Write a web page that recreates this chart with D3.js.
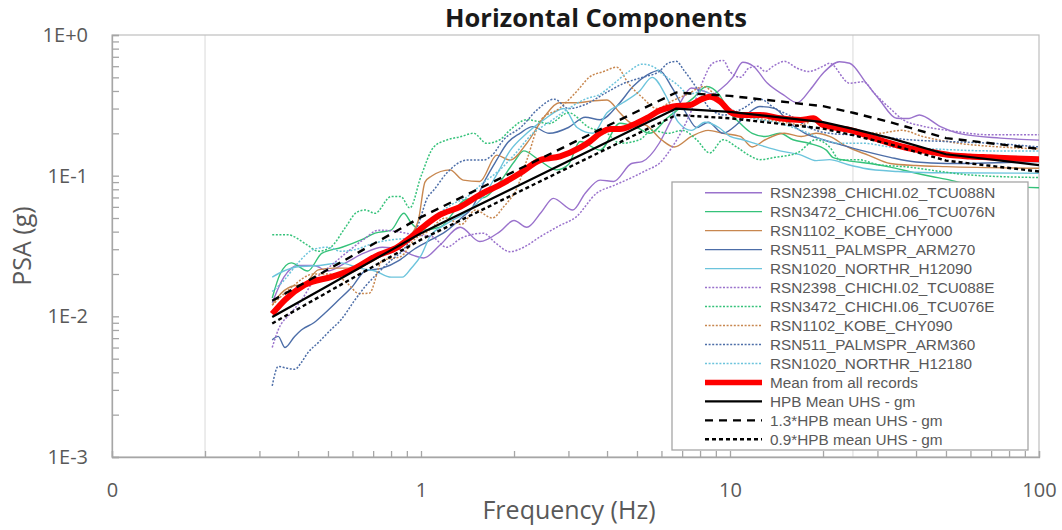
<!DOCTYPE html>
<html>
<head>
<meta charset="utf-8">
<script src="https://cdn.jsdelivr.net/npm/d3@7"></script>
<style>
  body { margin: 0; background: #fff; }
  text { font-family: "Open Sans", "Liberation Sans", sans-serif; }
</style>
</head>
<body>
<div id="chart"></div>
<script>
// ---- data ----
var xMajor = [0.1, 1, 10, 100];
var xTickLabels = ["0", "1", "10", "100"];
var yMajor = [0.001, 0.01, 0.1, 1];
var yTickLabels = ["1E-3", "1E-2", "1E-1", "1E+0"];
var gridFreqs = [0.2, 25];

// records [frequency Hz, PSA g]
var rsn2398N = [[0.33,0.0125],[0.36,0.019],[0.4,0.023],[0.45,0.023],[0.5,0.021],[0.57,0.024],[0.65,0.028],[0.75,0.031],[0.85,0.03],[0.95,0.027],[1.02,0.026],[1.15,0.032],[1.34,0.043],[1.55,0.034],[1.8,0.04],[2.0,0.048],[2.2,0.043],[2.45,0.055],[2.68,0.069],[3.1,0.057],[3.4,0.075],[3.8,0.093],[4.2,0.091],[4.8,0.122],[5.2,0.126],[5.9,0.17],[6.4,0.24],[6.9,0.33],[7.5,0.42],[8.2,0.4],[8.8,0.38],[9.3,0.41],[10.2,0.5],[11,0.64],[11.9,0.6],[13.2,0.455],[14.9,0.375],[16.5,0.33],[18.2,0.41],[20,0.535],[22.6,0.646],[24.4,0.63],[27.6,0.455],[30.5,0.345],[34.6,0.256],[38,0.255],[41,0.27],[48,0.223],[55,0.2],[75,0.185],[100,0.179]];
var rsn3472N = [[0.33,0.0135],[0.35,0.02],[0.38,0.024],[0.43,0.021],[0.477,0.028],[0.555,0.031],[0.64,0.035],[0.71,0.039],[0.8,0.041],[0.88,0.054],[0.93,0.046],[1.0,0.041],[1.15,0.043],[1.4,0.068],[1.6,0.07],[1.8,0.09],[2.0,0.125],[2.15,0.15],[2.4,0.13],[2.75,0.11],[3.0,0.12],[3.27,0.175],[3.8,0.152],[4.4,0.236],[5.0,0.22],[5.5,0.2],[6.3,0.26],[7.6,0.356],[8.4,0.43],[9.2,0.38],[10.0,0.28],[10.8,0.235],[11.8,0.2],[13,0.19],[14.5,0.2],[16,0.18],[18,0.17],[20.5,0.152],[21.5,0.135],[24,0.128],[28.4,0.122],[33,0.115],[38,0.107],[44.6,0.099],[51.6,0.093],[56,0.089],[100,0.082]];
var rsn1102_000 = [[0.33,0.012],[0.345,0.0138],[0.38,0.0163],[0.42,0.017],[0.465,0.0214],[0.52,0.022],[0.6,0.022],[0.68,0.024],[0.8,0.03],[0.9,0.035],[0.98,0.048],[1.03,0.09],[1.08,0.099],[1.24,0.11],[1.37,0.093],[1.55,0.091],[1.76,0.14],[1.94,0.129],[2.2,0.17],[2.5,0.26],[2.8,0.33],[3.2,0.33],[3.6,0.34],[4.0,0.345],[4.4,0.28],[4.8,0.236],[5.3,0.23],[6.0,0.18],[6.6,0.16],[7.5,0.19],[8.5,0.21],[9.5,0.2],[10.8,0.19],[11.8,0.16],[13,0.18],[15,0.2],[17,0.19],[19,0.2],[21,0.19],[24,0.16],[28,0.14],[33,0.122],[40,0.118],[50,0.116],[100,0.113]];
var rsn511_270 = [[0.33,0.0068],[0.345,0.0072],[0.363,0.006],[0.39,0.0072],[0.41,0.008],[0.45,0.009],[0.49,0.0106],[0.54,0.013],[0.6,0.0163],[0.66,0.021],[0.75,0.022],[0.85,0.025],[0.95,0.03],[1.05,0.034],[1.2,0.04],[1.35,0.05],[1.47,0.06],[1.6,0.09],[1.76,0.13],[1.9,0.17],[2.09,0.2],[2.3,0.223],[2.6,0.2],[3.0,0.22],[3.4,0.26],[3.8,0.25],[4.4,0.33],[4.85,0.43],[5.4,0.52],[5.9,0.56],[6.5,0.42],[7.2,0.28],[7.8,0.22],[8.5,0.24],[9.5,0.2],[10.5,0.23],[11.5,0.28],[12.5,0.31],[14,0.3],[15.5,0.24],[17.5,0.2],[20,0.18],[23,0.165],[27,0.15],[33,0.135],[40,0.125],[50,0.122],[100,0.126]];
var rsn1020_090 = [[0.33,0.019],[0.36,0.021],[0.4,0.0225],[0.47,0.023],[0.55,0.024],[0.63,0.022],[0.71,0.021],[0.8,0.019],[0.87,0.019],[0.93,0.022],[1.0,0.027],[1.07,0.037],[1.2,0.045],[1.4,0.055],[1.59,0.071],[1.75,0.1],[1.94,0.15],[2.2,0.2],[2.5,0.25],[2.9,0.3],[3.2,0.22],[3.6,0.2],[4.0,0.28],[4.5,0.33],[5.1,0.4],[5.6,0.5],[6.2,0.37],[6.8,0.24],[7.5,0.21],[8.3,0.24],[9.2,0.22],[10,0.19],[11,0.18],[12.5,0.165],[14.5,0.15],[17,0.14],[19,0.128],[21,0.13],[24,0.12],[27,0.113],[35,0.107],[45,0.105],[100,0.104]];
var rsn2398E = [[0.33,0.006],[0.345,0.008],[0.38,0.0106],[0.41,0.013],[0.45,0.018],[0.5,0.022],[0.57,0.028],[0.65,0.035],[0.73,0.041],[0.84,0.04],[0.95,0.038],[1.08,0.037],[1.21,0.031],[1.35,0.036],[1.59,0.039],[1.75,0.033],[1.94,0.0288],[2.15,0.031],[2.43,0.0368],[2.8,0.044],[3.18,0.051],[3.7,0.075],[4.2,0.085],[4.86,0.098],[5.4,0.11],[5.9,0.122],[6.5,0.16],[7.0,0.21],[7.5,0.29],[8.1,0.45],[8.8,0.63],[9.5,0.66],[10,0.55],[10.8,0.5],[11.5,0.58],[12.3,0.6],[13,0.55],[13.8,0.6],[15,0.65],[16.5,0.58],[18,0.55],[20,0.6],[21,0.629],[24.4,0.454],[27,0.466],[29.3,0.385],[33,0.3],[36.4,0.249],[42,0.225],[50,0.211],[70,0.195],[100,0.195]];
var rsn3472E = [[0.33,0.038],[0.37,0.038],[0.43,0.032],[0.465,0.029],[0.51,0.031],[0.57,0.043],[0.62,0.055],[0.66,0.057],[0.71,0.054],[0.8,0.071],[0.86,0.071],[0.92,0.059],[1.0,0.099],[1.1,0.16],[1.21,0.179],[1.34,0.189],[1.48,0.2],[1.63,0.17],[1.8,0.18],[1.94,0.211],[2.2,0.25],[2.6,0.235],[3.0,0.28],[3.5,0.22],[4.0,0.2],[4.4,0.17],[5.1,0.18],[5.6,0.21],[6.3,0.2],[7.0,0.21],[7.8,0.18],[8.6,0.145],[9.5,0.18],[10.5,0.16],[11.5,0.14],[12.5,0.13],[14,0.135],[16.5,0.145],[19,0.18],[21,0.16],[22.7,0.129],[26,0.13],[30,0.12],[38,0.115],[48,0.107],[60,0.101],[100,0.097]];
var rsn1102_090 = [[0.33,0.012],[0.38,0.016],[0.45,0.02],[0.52,0.02],[0.58,0.017],[0.63,0.0145],[0.68,0.0146],[0.75,0.025],[0.86,0.0266],[0.95,0.035],[1.05,0.04],[1.2,0.05],[1.35,0.045],[1.5,0.057],[1.7,0.05],[1.85,0.06],[2.05,0.083],[2.2,0.129],[2.45,0.25],[2.8,0.3],[3.2,0.4],[3.5,0.5],[3.9,0.55],[4.3,0.59],[4.7,0.45],[5.2,0.36],[5.8,0.3],[6.5,0.34],[7.3,0.38],[8.2,0.43],[9.2,0.35],[10.3,0.27],[11.5,0.26],[13,0.25],[15,0.24],[17,0.23],[19,0.25],[21,0.22],[25,0.21],[30,0.2],[36,0.21],[42,0.19],[55,0.17],[75,0.16],[100,0.155]];
var rsn511_360 = [[0.33,0.0032],[0.345,0.0044],[0.365,0.0043],[0.39,0.0042],[0.41,0.0047],[0.43,0.0055],[0.465,0.0065],[0.51,0.008],[0.55,0.0094],[0.61,0.013],[0.66,0.0163],[0.72,0.02],[0.8,0.025],[0.88,0.03],[0.98,0.045],[1.05,0.07],[1.1,0.079],[1.21,0.104],[1.41,0.129],[1.59,0.129],[1.7,0.14],[1.85,0.18],[2.1,0.22],[2.4,0.3],[2.7,0.35],[3.0,0.3],[3.4,0.32],[3.9,0.38],[4.5,0.45],[5.2,0.5],[5.9,0.55],[6.3,0.63],[6.7,0.65],[7.1,0.56],[7.8,0.42],[8.6,0.3],[9.6,0.27],[11,0.3],[12.5,0.35],[14,0.3],[16,0.26],[18,0.22],[21,0.2],[25,0.195],[30,0.19],[38,0.18],[50,0.175],[70,0.17],[100,0.16]];
var rsn1020_180 = [[0.33,0.015],[0.36,0.018],[0.4,0.024],[0.45,0.03],[0.5,0.031],[0.55,0.029],[0.62,0.03],[0.7,0.033],[0.8,0.035],[0.9,0.036],[1.0,0.04],[1.1,0.05],[1.25,0.062],[1.4,0.07],[1.6,0.09],[1.8,0.11],[2.0,0.14],[2.3,0.2],[2.6,0.24],[3.0,0.3],[3.4,0.35],[3.8,0.38],[4.2,0.45],[4.7,0.55],[5.2,0.62],[5.6,0.6],[6.1,0.52],[6.7,0.45],[7.4,0.38],[8.2,0.4],[9,0.35],[10,0.3],[11,0.27],[12.5,0.25],[14,0.24],[16,0.22],[18,0.2],[20,0.18],[23,0.17],[27,0.17],[33,0.16],[45,0.155],[70,0.15],[100,0.15]];

var meanAll = [[0.33,0.0104],[0.363,0.0131],[0.42,0.0167],[0.514,0.0191],[0.597,0.0214],[0.71,0.0266],[0.845,0.0313],[0.92,0.036],[1.0,0.042],[1.15,0.0526],[1.34,0.06],[1.55,0.073],[1.8,0.086],[2.09,0.104],[2.43,0.129],[2.82,0.137],[3.27,0.158],[3.52,0.175],[3.8,0.2],[4.09,0.215],[4.41,0.215],[4.86,0.23],[5.37,0.256],[5.93,0.29],[6.56,0.31],[7.43,0.318],[8.0,0.345],[8.6,0.364],[9.3,0.336],[10,0.285],[10.8,0.27],[12.5,0.27],[14.5,0.256],[16.9,0.249],[18.6,0.256],[20,0.229],[22.7,0.217],[24.4,0.211],[28.4,0.189],[33,0.17],[38.3,0.156],[44.4,0.148],[51.6,0.14],[59.8,0.137],[69.5,0.135],[80.6,0.133],[100,0.131]];

var freqHPB = [0.33, 0.5, 1, 2, 5, 6.7, 10, 20, 25, 33, 50, 100];
var hpbMean = [0.0099, 0.0165, 0.039, 0.082, 0.22, 0.30, 0.284, 0.24, 0.215, 0.185, 0.142, 0.119];
var hpb13 = [0.0129, 0.0215, 0.0507, 0.107, 0.286, 0.39, 0.369, 0.312, 0.28, 0.24, 0.185, 0.155];
var hpb09 = [0.0089, 0.0149, 0.0351, 0.0738, 0.198, 0.27, 0.256, 0.216, 0.194, 0.167, 0.128, 0.107];

var legendLabels = ["RSN2398_CHICHI.02_TCU088N", "RSN3472_CHICHI.06_TCU076N", "RSN1102_KOBE_CHY000",
  "RSN511_PALMSPR_ARM270", "RSN1020_NORTHR_H12090", "RSN2398_CHICHI.02_TCU088E", "RSN3472_CHICHI.06_TCU076E",
  "RSN1102_KOBE_CHY090", "RSN511_PALMSPR_ARM360", "RSN1020_NORTHR_H12180", "Mean from all records",
  "HPB Mean UHS - gm", "1.3*HPB mean UHS - gm", "0.9*HPB mean UHS - gm"];

// ---- series styling ----
var purple = "#9a72cc", green = "#35c27a", brown = "#c8874f", navy = "#4d6ea8", cyan = "#6cc4dc";
function pairs(f, v) { return f.map(function (d, i) { return [d, v[i]]; }); }
var series = [
  { data: rsn2398N, color: purple, w: 1.4, dash: null },
  { data: rsn3472N, color: green, w: 1.4, dash: null },
  { data: rsn1102_000, color: brown, w: 1.4, dash: null },
  { data: rsn511_270, color: navy, w: 1.4, dash: null },
  { data: rsn1020_090, color: cyan, w: 1.4, dash: null },
  { data: rsn2398E, color: purple, w: 1.5, dash: "2,1.6" },
  { data: rsn3472E, color: green, w: 1.5, dash: "2,1.6" },
  { data: rsn1102_090, color: brown, w: 1.5, dash: "2,1.6" },
  { data: rsn511_360, color: navy, w: 1.5, dash: "2,1.6" },
  { data: rsn1020_180, color: cyan, w: 1.5, dash: "2,1.6" },
  { data: meanAll, color: "#ff0000", w: 6, dash: null },
  { data: pairs(freqHPB, hpbMean), color: "#000", w: 2.2, dash: null, straight: true },
  { data: pairs(freqHPB, hpb13), color: "#000", w: 2.4, dash: "8,6", straight: true },
  { data: pairs(freqHPB, hpb09), color: "#000", w: 2.4, dash: "4,3", straight: true }
];

var W = 1062, H = 530;
var pLeft = 112, pRight = 1039, pTop = 35, pBottom = 457;

var svg = d3.select("#chart").append("svg").attr("width", W).attr("height", H);

var x = d3.scaleLog().domain([0.1, 100]).range([pLeft, pRight]);
var y = d3.scaleLog().domain([0.001, 1]).range([pBottom, pTop]);

var axisColor = "#a6a6a6", labelColor = "#595959";

// vertical gridlines
svg.selectAll(".grid").data(gridFreqs).enter().append("line")
  .attr("x1", function (d) { return x(d); }).attr("x2", function (d) { return x(d); })
  .attr("y1", pTop).attr("y2", pBottom)
  .attr("stroke", "#d9d9d9").attr("stroke-width", 1);

// plot border
svg.append("rect").attr("x", pLeft).attr("y", pTop).attr("width", pRight - pLeft).attr("height", pBottom - pTop)
  .attr("fill", "none").attr("stroke", "#bfbfbf").attr("stroke-width", 1.2);

// minor + major tick positions
var xTicks = [], yTicks = [];
[0.1, 1, 10].forEach(function (dec) { for (var k = 1; k < 10; k++) xTicks.push(dec * k); });
xTicks.push(100);
[0.001, 0.01, 0.1].forEach(function (dec) { for (var k = 1; k < 10; k++) yTicks.push(dec * k); });
yTicks.push(1);

var gx = svg.append("g").attr("transform", "translate(0," + pBottom + ")")
  .call(d3.axisBottom(x).tickValues(xTicks).tickSize(-6).tickFormat(""));
var gy = svg.append("g").attr("transform", "translate(" + pLeft + ",0)")
  .call(d3.axisLeft(y).tickValues(yTicks).tickSize(-7).tickFormat(""));
[gx, gy].forEach(function (g) {
  g.selectAll("path, line").attr("stroke", axisColor).attr("stroke-width", 1.3);
});

// tick labels
var gxl = svg.append("g").attr("transform", "translate(0," + pBottom + ")")
  .call(d3.axisBottom(x).tickValues(xMajor).tickSize(0).tickPadding(26)
    .tickFormat(function (d, i) { return xTickLabels[i]; }));
var gyl = svg.append("g").attr("transform", "translate(" + pLeft + ",0)")
  .call(d3.axisLeft(y).tickValues(yMajor).tickSize(0).tickPadding(24)
    .tickFormat(function (d, i) { return yTickLabels[i]; }));
[gxl, gyl].forEach(function (g) {
  g.select(".domain").remove();
  g.selectAll("text").attr("fill", labelColor).style("font-size", "20px")
    .style("font-family", '"Open Sans", sans-serif');
});

// lines
svg.append("clipPath").attr("id", "plotclip").append("rect")
  .attr("x", pLeft).attr("y", pTop).attr("width", pRight - pLeft).attr("height", pBottom - pTop);
var plot = svg.append("g").attr("clip-path", "url(#plotclip)");

series.forEach(function (s) {
  var line = d3.line()
    .x(function (d) { return x(d[0]); })
    .y(function (d) { return y(d[1]); })
    .curve(s.straight ? d3.curveLinear : d3.curveMonotoneX);
  plot.append("path").datum(s.data)
    .attr("d", line)
    .attr("fill", "none")
    .attr("stroke", s.color)
    .attr("stroke-width", s.w)
    .attr("stroke-linejoin", "round")
    .attr("stroke-dasharray", s.dash);
});

// legend
var lg = svg.append("g");
lg.append("rect").attr("x", 672).attr("y", 182).attr("width", 356).attr("height", 268)
  .attr("fill", "#fff").attr("stroke", "#a6a6a6").attr("stroke-width", 1.3);
var rowH = 18.97, row0 = 192.7;
series.forEach(function (s, i) {
  var yy = row0 + i * rowH;
  lg.append("line").attr("x1", 705).attr("x2", 762).attr("y1", yy).attr("y2", yy)
    .attr("stroke", s.color).attr("stroke-width", Math.min(s.w, 5.5))
    .attr("stroke-dasharray", s.dash);
  lg.append("text").attr("x", 770).attr("y", yy).attr("dy", "0.36em")
    .attr("fill", labelColor).style("font-size", "15.3px")
    .style("font-family", '"Liberation Sans", Arial, sans-serif').text(legendLabels[i]);
});

// titles
svg.append("text").attr("x", 596).attr("y", 27).attr("text-anchor", "middle")
  .style("font-size", "25.5px").style("font-weight", "bold").attr("fill", "#1a1a1a")
  .text("Horizontal Components");
svg.append("text").attr("x", 569).attr("y", 519).attr("text-anchor", "middle")
  .style("font-size", "25px").attr("fill", labelColor).text("Frequency (Hz)");
svg.append("text").attr("transform", "translate(31,246) rotate(-90)").attr("text-anchor", "middle")
  .style("font-size", "25px").attr("fill", labelColor).text("PSA (g)");
</script>
</body>
</html>
